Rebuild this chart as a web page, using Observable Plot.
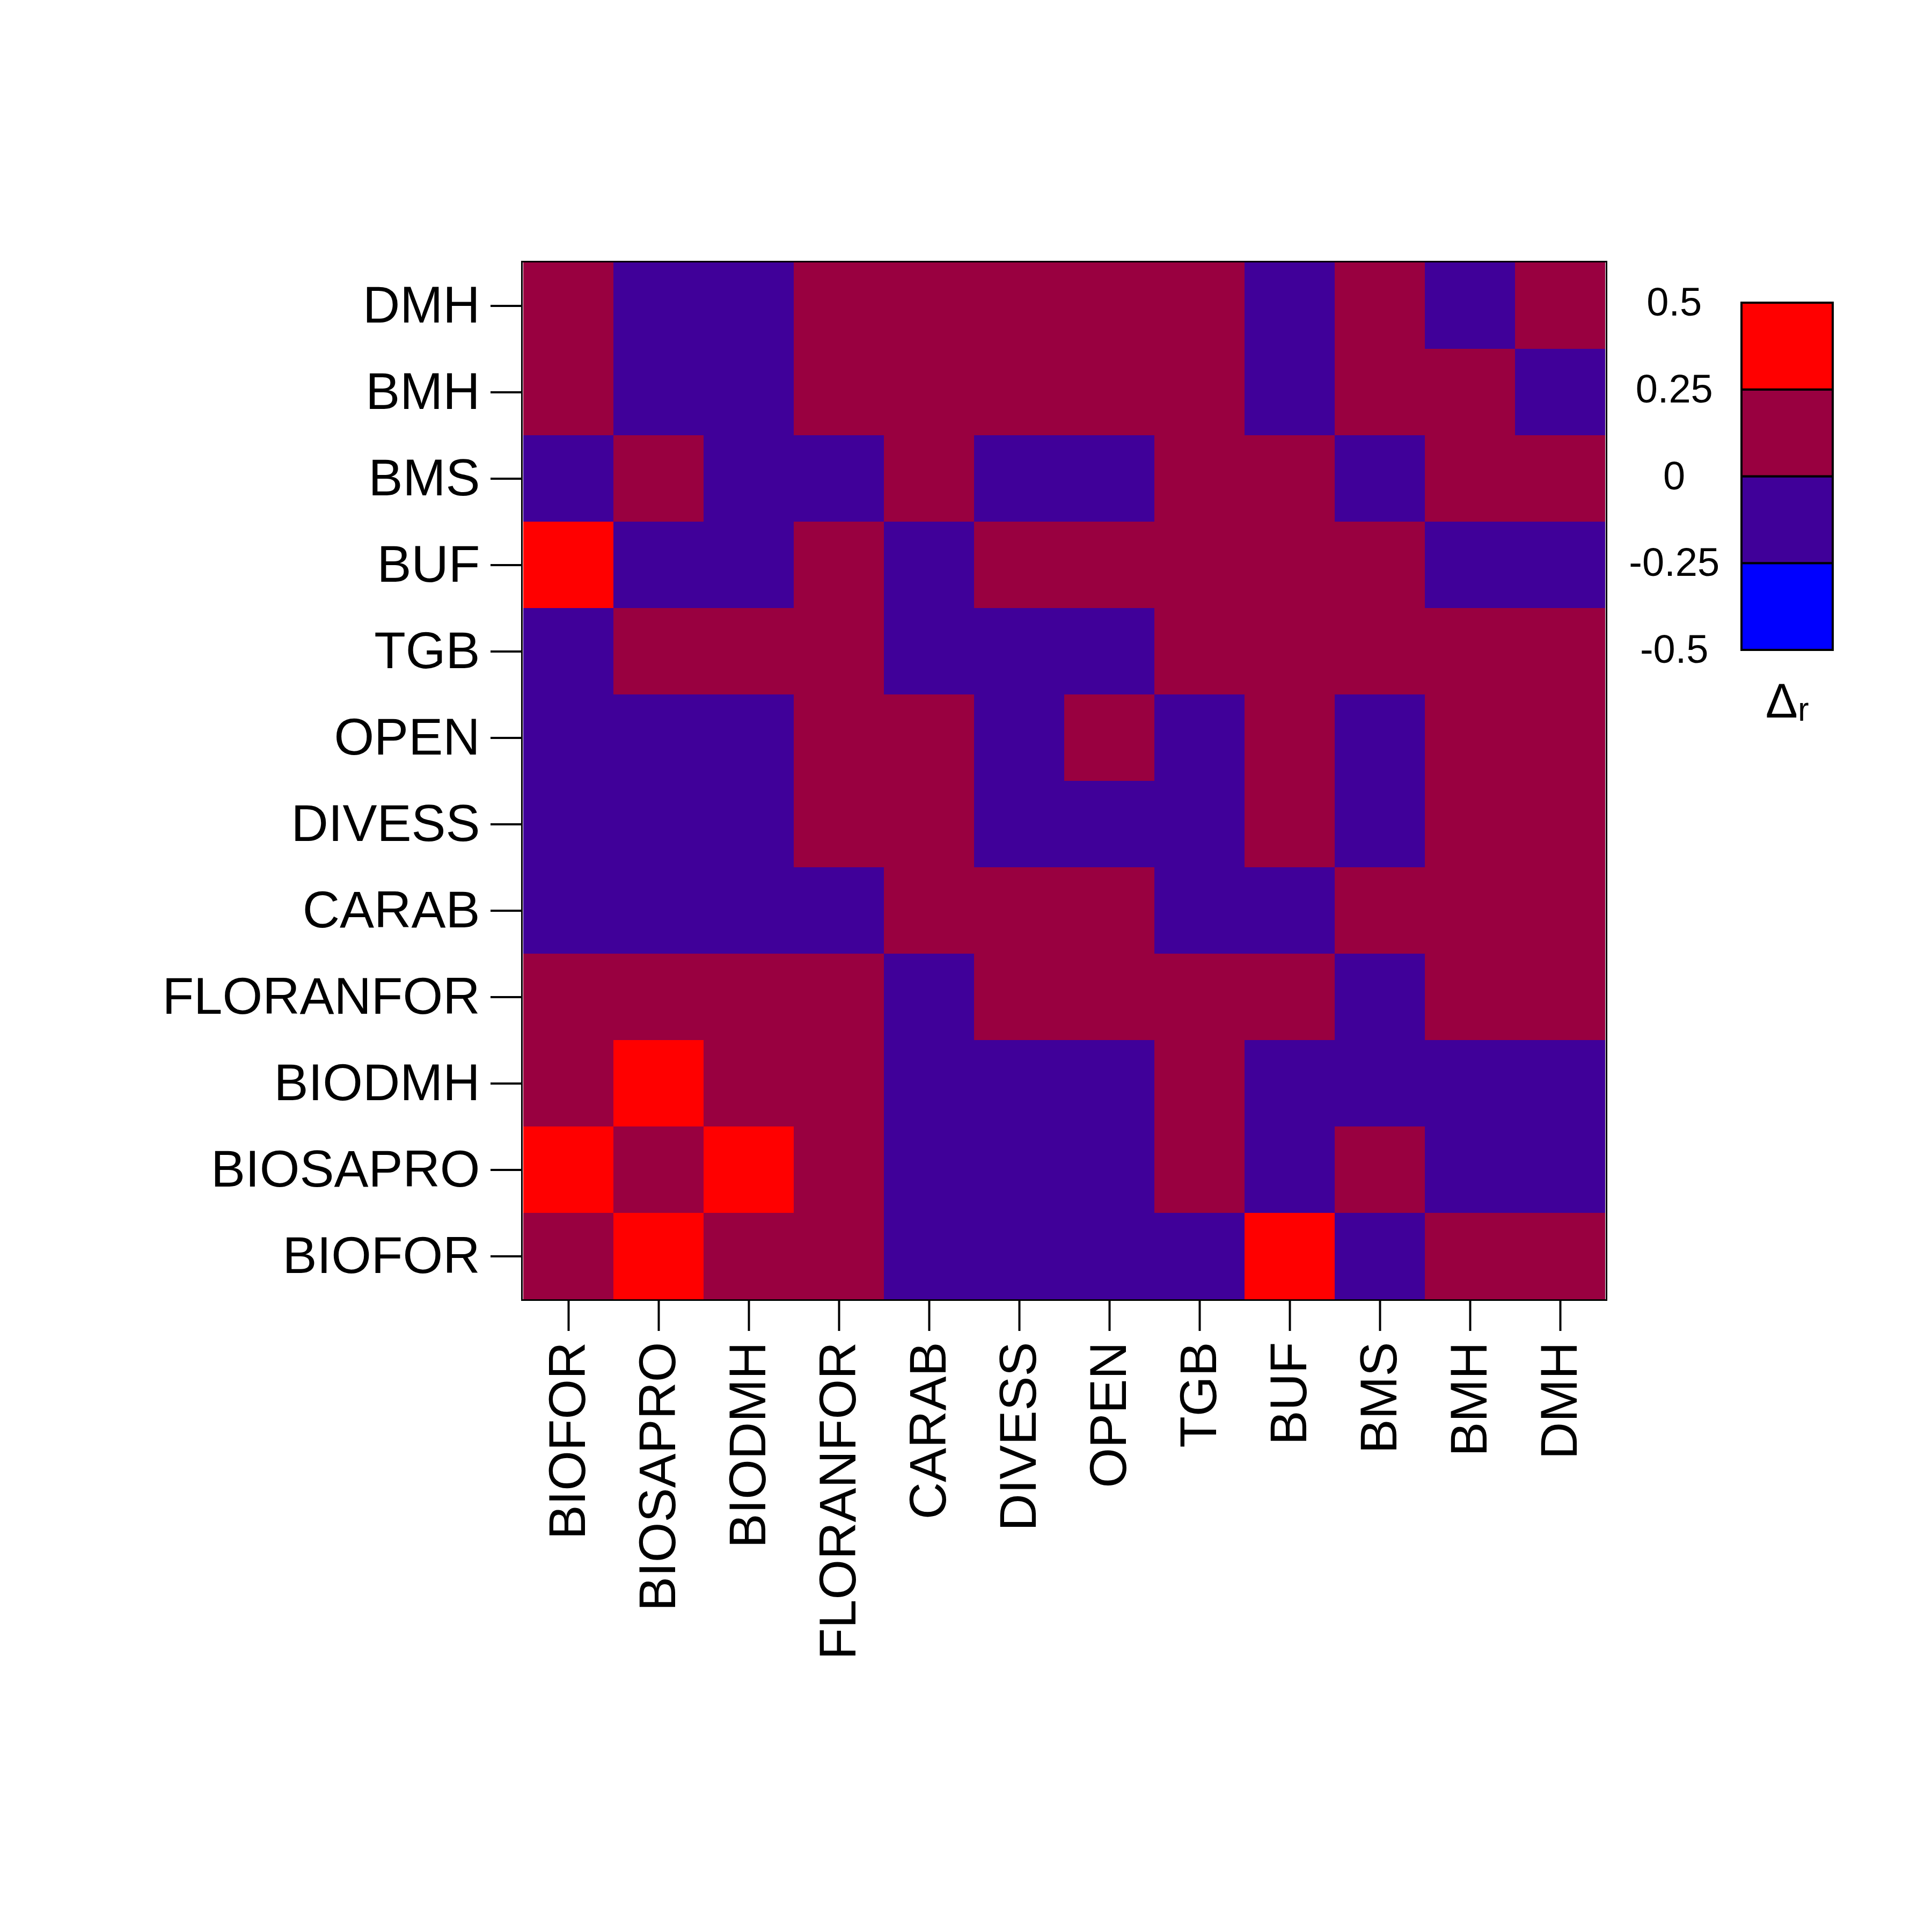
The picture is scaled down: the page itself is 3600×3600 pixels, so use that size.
<!DOCTYPE html>
<html><head><meta charset="utf-8">
<script src="https://cdn.jsdelivr.net/npm/d3@7"></script>
<script src="https://cdn.jsdelivr.net/npm/@observablehq/plot@0.6"></script>
<style>body{margin:0;background:#fff}#wrap{position:relative;width:3600px;height:3600px}#wrap svg{position:absolute;left:0;top:0;background:transparent}</style>
</head><body><div id="wrap"></div>
<script>
const cols = ["BIOFOR","BIOSAPRO","BIODMH","FLORANFOR","CARAB","DIVESS","OPEN","TGB","BUF","BMS","BMH","DMH"];
const rows = ["DMH","BMH","BMS","BUF","TGB","OPEN","DIVESS","CARAB","FLORANFOR","BIODMH","BIOSAPRO","BIOFOR"];
// R: 0.25..0.5, M: 0..0.25, P: -0.25..0
const grid = [
"MPPMMMMMPMPM",
"MPPMMMMMPMMP",
"PMPPMPPMMPMM",
"RPPMPMMMMMPP",
"PMMMPPPMMMMM",
"PPPMMPMPMPMM",
"PPPMMPPPMPMM",
"PPPPMMMPPMMM",
"MMMMPMMMMPMM",
"MRMMPPPMPPPP",
"RMRMPPPMPMPP",
"MRMMPPPPRPMM"];
const levelValue = {R:0.35, M:0.12, P:-0.12, B:-0.37};
const breaks = [-0.25, 0, 0.25];
const colors = ["#0000FF","#400099","#990040","#FF0000"];
const legendTicks = [0.5, 0.25, 0, -0.25, -0.5];

const data = [];
rows.forEach((r,i)=>cols.forEach((c,j)=>data.push({row:r,col:c,value:levelValue[grid[i][j]]})));
const font = "Liberation Sans, Arial, sans-serif";

const main = Plot.plot({
  width:3600, height:3600,
  marginLeft:972, marginRight:607, marginTop:487, marginBottom:1178,
  style:{fontFamily:font, fontSize:"96px", background:"transparent"},
  x:{domain:cols, padding:0, label:null, tickRotate:-90, tickSize:58, tickPadding:20},
  y:{domain:rows, padding:0, label:null, tickSize:58, tickPadding:20},
  color:{type:"threshold", domain:breaks, range:colors},
  marks:[
    Plot.cell(data,{x:"col",y:"row",fill:"value"}),
    Plot.frame({stroke:"black",strokeWidth:3}),
    Plot.axisX({tickRotate:-90, tickSize:58, tickPadding:20, strokeWidth:4, fontSize:96, label:null}),
    Plot.axisY({tickSize:58, tickPadding:20, strokeWidth:4, fontSize:96, label:null})
  ]
});
main.querySelectorAll("g[aria-label='x-axis tick'] line, g[aria-label='y-axis tick'] line").forEach(l=>l.setAttribute("stroke-width","4"));
document.getElementById("wrap").appendChild(main);

const bands = breaks.map(b=>b);
const legendData = [[-0.5,-0.25],[-0.25,0],[0,0.25],[0.25,0.5]].map((d,i)=>({y1:d[0],y2:d[1],c:colors[i]}));
const legend = Plot.plot({
  width:3600, height:3600,
  marginLeft:3245, marginRight:185, marginTop:564, marginBottom:2389,
  style:{fontFamily:font, background:"transparent", overflow:"visible"},
  x:{domain:[0,1], axis:null},
  y:{domain:[-0.5,0.5], axis:null},
  marks:[
    Plot.rectY(legendData,{x1:0,x2:1,y1:"y1",y2:"y2",fill:"c",stroke:"black",strokeWidth:4,clip:false}),
    Plot.text(legendTicks,{x:-0.74,y:d=>d,text:d=>String(d),fontSize:74,fill:"black",clip:false}),
    Plot.text(["Δᵣ"],{x:0.5,y:-0.65,text:d=>d,fontSize:90,fill:"black",clip:false})
  ]
});
document.getElementById("wrap").appendChild(legend);
</script></body></html>
